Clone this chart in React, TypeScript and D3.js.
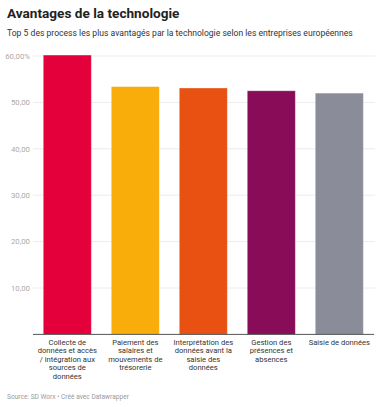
import React from "react";
import * as d3 from "d3";

const categories = [
  ["Collecte de", "données et accès", "/ intégration aux", "sources de", "données"],
  ["Paiement des", "salaires et", "mouvements de", "trésorerie"],
  ["Interprétation des", "données avant la", "saisie des", "données"],
  ["Gestion des", "présences et", "absences"],
  ["Saisie de données"],
];
const values = [60.2, 53.4, 53.1, 52.5, 52.0];
const colors = ["#e4003b", "#f9ad0b", "#e95112", "#890c58", "#8a8d99"];
const yTicks = [10, 20, 30, 40, 50, 60];

const W = 382;
const H = 407;

export default function App() {
  const x = d3
    .scaleBand<number>()
    .domain(values.map((_, i) => i))
    .range([33.3, 373.3])
    .paddingInner(0.294)
    .paddingOuter(0.147);
  const y = d3.scaleLinear().domain([0, 60]).range([334.4, 56]);
  const fmt = (v: number) => v.toFixed(2).replace(".", ",") + (v === 60 ? "%" : "");
  return (
    <svg
      width={W}
      height={H}
      style={{ position: "absolute", left: 0, top: 0, background: "#fff", fontFamily: "Roboto, sans-serif" }}
    >
      <text x={7} y={18} fontSize={13.6} fontWeight={700} fill="#222">
        Avantages de la technologie
      </text>
      <text x={7} y={35.5} fontSize={8.6} fill="#333">
        Top 5 des process les plus avantagés par la technologie selon les entreprises européennes
      </text>
      {yTicks.map((t) => (
        <g key={t}>
          <line x1={33} x2={375} y1={y(t)} y2={y(t)} stroke="#ececec" strokeWidth={1} />
          <text x={30} y={y(t)} dy="0.35em" textAnchor="end" fontSize={7.8} fill="#aaa">
            {fmt(t)}
          </text>
        </g>
      ))}
      {values.map((v, i) => (
        <rect
          key={i}
          x={x(i)!}
          y={y(v)}
          width={x.bandwidth()}
          height={y(0) - y(v)}
          fill={colors[i]}
          stroke="#ffffff"
          strokeOpacity={0.35}
          strokeWidth={0.8}
        />
      ))}
      <line x1={33} x2={374} y1={y(0)} y2={y(0)} stroke="#555" strokeWidth={1} />
      {categories.map((lines, i) => (
        <text key={i} textAnchor="middle" fontSize={7.6} fill="#333">
          {lines.map((l, j) => (
            <tspan key={j} x={x(i)! + x.bandwidth() / 2} y={344.5 + j * 8.5}>
              {l}
            </tspan>
          ))}
        </text>
      ))}
      <text x={7} y={399} fontSize={6.6} fill="#999">
        Source: SD Worx • Créé avec Datawrapper
      </text>
    </svg>
  );
}
